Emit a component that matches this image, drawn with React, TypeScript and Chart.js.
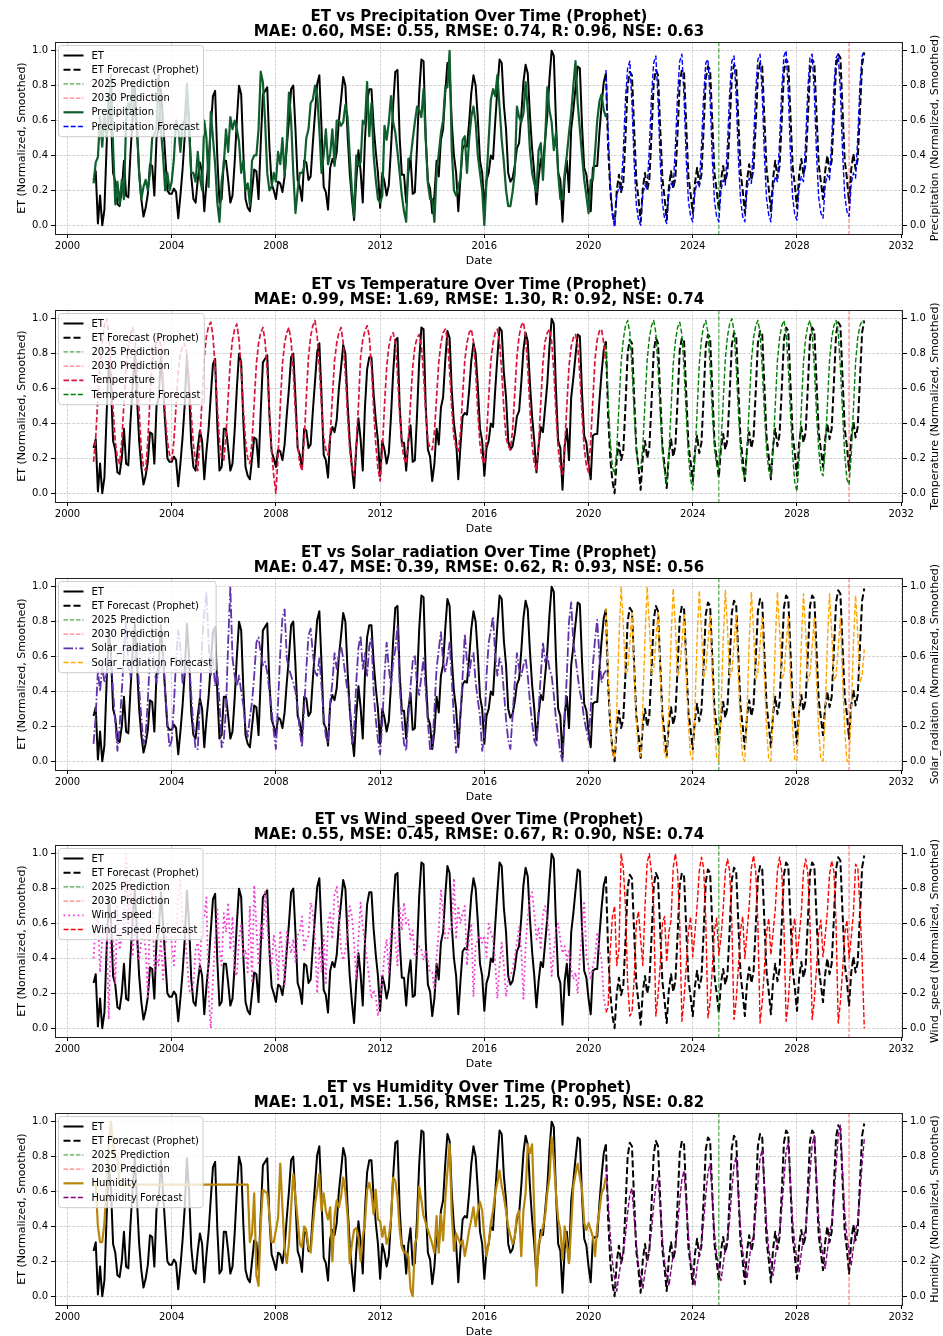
import React, { useEffect, useRef } from "react";
import { Chart, registerables } from "chart.js";

Chart.register(...registerables);

// ---------------- data ----------------
// Observed series: monthly, Jan 2001 .. Sep 2020 ; forecasts: monthly, Sep 2020 .. Aug 2030
const OBS_START = { year: 2001, month: 0 };
const FC_START = { year: 2020, month: 8 };

const X_TICKS = [2000, 2004, 2008, 2012, 2016, 2020, 2024, 2028, 2032];
const Y_TICKS = [0, 0.2, 0.4, 0.6, 0.8, 1.0];
const PREDICTION_YEARS = [2025, 2030];
const PREDICTION_LABELS = ["2025 Prediction", "2030 Prediction"];

const ET_OBS = [
  0.26, 0.31, 0.01, 0.17, 0.00, 0.09, 0.45, 0.75, 0.62, 0.30, 0.25, 0.12,
  0.11, 0.20, 0.37, 0.17, 0.16, 0.41, 0.62, 0.79, 0.55, 0.30, 0.15, 0.05,
  0.10, 0.18, 0.35, 0.34, 0.17, 0.50, 0.55, 0.78, 0.60, 0.40, 0.20, 0.18,
  0.18, 0.21, 0.19, 0.04, 0.17, 0.32, 0.51, 0.79, 0.60, 0.28, 0.15, 0.13,
  0.26, 0.36, 0.30, 0.08, 0.24, 0.37, 0.56, 0.74, 0.77, 0.39, 0.13, 0.15,
  0.37, 0.37, 0.26, 0.13, 0.17, 0.36, 0.60, 0.80, 0.75, 0.41, 0.15, 0.10,
  0.08, 0.20, 0.32, 0.31, 0.15, 0.47, 0.75, 0.77, 0.79, 0.45, 0.24, 0.20,
  0.15, 0.25, 0.24, 0.19, 0.28, 0.45, 0.60, 0.78, 0.80, 0.55, 0.26, 0.22,
  0.14, 0.37, 0.36, 0.26, 0.28, 0.47, 0.64, 0.81, 0.86, 0.56, 0.22, 0.19,
  0.09, 0.33, 0.38, 0.35, 0.42, 0.60, 0.72, 0.85, 0.80, 0.52, 0.30, 0.15,
  0.03, 0.26, 0.43, 0.31, 0.13, 0.49, 0.71, 0.78, 0.78, 0.57, 0.42, 0.30,
  0.10, 0.30, 0.25, 0.17, 0.23, 0.44, 0.69, 0.88, 0.89, 0.50, 0.29, 0.29,
  0.13, 0.30, 0.39, 0.18, 0.19, 0.45, 0.76, 0.95, 0.94, 0.50, 0.25, 0.21,
  0.07, 0.17, 0.37, 0.28, 0.49, 0.55, 0.76, 0.93, 0.89, 0.59, 0.40, 0.30,
  0.08, 0.27, 0.44, 0.46, 0.45, 0.59, 0.76, 0.86, 0.80, 0.61, 0.37, 0.30,
  0.10, 0.26, 0.30, 0.40, 0.38, 0.59, 0.78, 0.95, 0.93, 0.69, 0.55, 0.30,
  0.25, 0.27, 0.34, 0.44, 0.47, 0.63, 0.82, 0.92, 0.87, 0.63, 0.44, 0.30,
  0.12, 0.27, 0.38, 0.35, 0.49, 0.63, 0.84, 1.00, 0.97, 0.59, 0.30, 0.26,
  0.02, 0.27, 0.37, 0.19, 0.55, 0.66, 0.79, 0.91, 0.90, 0.57, 0.33, 0.29,
  0.17, 0.08, 0.33, 0.34, 0.34, 0.53, 0.69, 0.82, 0.87,
];

const ET_FC = [
  0.87, 0.45, 0.20, 0.07,
  0.00, 0.20, 0.29, 0.19, 0.24, 0.50, 0.80, 0.88, 0.86, 0.55, 0.26, 0.15,
  0.02, 0.21, 0.30, 0.20, 0.26, 0.52, 0.81, 0.89, 0.86, 0.56, 0.27, 0.16,
  0.03, 0.22, 0.31, 0.21, 0.27, 0.53, 0.82, 0.89, 0.87, 0.57, 0.28, 0.18,
  0.07, 0.24, 0.33, 0.23, 0.29, 0.55, 0.84, 0.91, 0.89, 0.59, 0.30, 0.20,
  0.09, 0.26, 0.34, 0.25, 0.31, 0.57, 0.85, 0.92, 0.90, 0.60, 0.31, 0.20,
  0.07, 0.26, 0.35, 0.26, 0.32, 0.58, 0.86, 0.93, 0.91, 0.61, 0.32, 0.21,
  0.08, 0.27, 0.37, 0.27, 0.34, 0.60, 0.88, 0.95, 0.93, 0.63, 0.34, 0.23,
  0.10, 0.29, 0.38, 0.29, 0.35, 0.61, 0.89, 0.95, 0.93, 0.64, 0.35, 0.25,
  0.15, 0.31, 0.40, 0.31, 0.37, 0.63, 0.91, 0.98, 0.96, 0.66, 0.37, 0.27,
  0.13, 0.32, 0.41, 0.32, 0.38, 0.65, 0.92, 0.99,
];

const PRECIP_OBS = [
  0.24, 0.36, 0.39, 0.62, 0.45, 0.63, 0.50, 0.62, 0.86, 0.45, 0.12, 0.25,
  0.12, 0.26, 0.15, 0.60, 0.70, 0.66, 0.80, 0.65, 0.55, 0.30, 0.15, 0.22,
  0.26, 0.20, 0.30, 0.50, 0.52, 0.56, 0.86, 0.55, 0.40, 0.20, 0.30, 0.20,
  0.25, 0.38, 0.60, 0.56, 0.42, 0.58, 0.60, 0.81, 0.55, 0.30, 0.30, 0.25,
  0.42, 0.27, 0.20, 0.60, 0.50, 0.22, 0.65, 0.50, 0.35, 0.13, 0.02, 0.25,
  0.35, 0.55, 0.42, 0.62, 0.55, 0.60, 0.55, 0.48, 0.30, 0.37, 0.20, 0.24,
  0.12, 0.37, 0.40, 0.40, 0.55, 0.88, 0.82, 0.60, 0.30, 0.20, 0.22, 0.30,
  0.25, 0.42, 0.35, 0.50, 0.28, 0.48, 0.76, 0.60, 0.30, 0.07, 0.20, 0.30,
  0.30, 0.33, 0.50, 0.55, 0.70, 0.72, 0.80, 0.75, 0.55, 0.30, 0.40, 0.55,
  0.35, 0.41, 0.55, 0.34, 0.60, 0.60, 0.57, 0.59, 0.69, 0.62, 0.40, 0.20,
  0.05, 0.40, 0.34, 0.36, 0.60, 0.58, 0.82, 0.51, 0.70, 0.40, 0.26, 0.15,
  0.13, 0.17, 0.57, 0.49, 0.59, 0.74, 0.59, 0.53, 0.42, 0.30, 0.17, 0.08,
  0.02, 0.38, 0.38, 0.49, 0.59, 0.68, 0.66, 0.62, 0.78, 0.49, 0.24, 0.15,
  0.15, 0.02, 0.30, 0.41, 0.53, 0.60, 0.79, 0.79, 1.00, 0.43, 0.20, 0.17,
  0.22, 0.27, 0.49, 0.51, 0.30, 0.49, 0.62, 0.68, 0.59, 0.40, 0.30, 0.20,
  0.00, 0.26, 0.49, 0.72, 0.78, 0.74, 0.86, 0.68, 0.49, 0.36, 0.20, 0.11,
  0.11, 0.19, 0.30, 0.68, 0.62, 0.59, 0.64, 0.82, 0.66, 0.43, 0.30, 0.24,
  0.19, 0.43, 0.47, 0.26, 0.49, 0.79, 0.66, 0.59, 0.43, 0.53, 0.30, 0.15,
  0.15, 0.30, 0.40, 0.53, 0.64, 0.80, 0.94, 0.70, 0.55, 0.40, 0.26, 0.17,
  0.07, 0.26, 0.26, 0.42, 0.60, 0.71, 0.75, 0.66, 0.62,
];

const PRECIP_FC = [
  0.89, 0.55, 0.25, 0.06,
  0.00, 0.17, 0.22, 0.20, 0.42, 0.72, 0.90, 0.94, 0.70, 0.36, 0.12, 0.03,
  0.00, 0.18, 0.23, 0.21, 0.44, 0.74, 0.93, 0.97, 0.72, 0.37, 0.13, 0.04,
  0.01, 0.19, 0.24, 0.22, 0.45, 0.75, 0.94, 0.98, 0.73, 0.38, 0.14, 0.05,
  0.02, 0.19, 0.25, 0.22, 0.45, 0.74, 0.93, 0.95, 0.72, 0.38, 0.14, 0.05,
  0.02, 0.20, 0.26, 0.23, 0.46, 0.76, 0.94, 0.97, 0.74, 0.39, 0.15, 0.05,
  0.02, 0.21, 0.27, 0.24, 0.47, 0.77, 0.95, 0.98, 0.75, 0.40, 0.15, 0.06,
  0.02, 0.21, 0.28, 0.25, 0.48, 0.78, 0.97, 1.00, 0.76, 0.41, 0.16, 0.06,
  0.03, 0.22, 0.28, 0.25, 0.48, 0.78, 0.96, 0.98, 0.76, 0.41, 0.16, 0.07,
  0.04, 0.23, 0.29, 0.26, 0.49, 0.79, 0.96, 0.98, 0.77, 0.42, 0.17, 0.08,
  0.05, 0.24, 0.30, 0.27, 0.50, 0.80, 0.97, 1.00,
];

const TEMP_OBS = [
  0.18, 0.32, 0.55, 0.75, 0.86, 0.96, 1.00, 0.92, 0.72, 0.48, 0.30, 0.20,
  0.17, 0.30, 0.52, 0.72, 0.84, 0.91, 0.95, 0.88, 0.70, 0.47, 0.25, 0.15,
  0.13, 0.30, 0.55, 0.75, 0.83, 0.86, 0.90, 0.84, 0.68, 0.45, 0.30, 0.22,
  0.19, 0.30, 0.50, 0.70, 0.80, 0.84, 0.86, 0.80, 0.65, 0.45, 0.28, 0.18,
  0.13, 0.30, 0.55, 0.78, 0.90, 0.96, 0.98, 0.90, 0.72, 0.50, 0.30, 0.20,
  0.19, 0.33, 0.55, 0.76, 0.88, 0.94, 0.97, 0.88, 0.70, 0.48, 0.30, 0.20,
  0.17, 0.30, 0.52, 0.74, 0.86, 0.92, 0.95, 0.87, 0.70, 0.46, 0.25, 0.10,
  0.00, 0.22, 0.50, 0.74, 0.86, 0.92, 0.95, 0.87, 0.70, 0.46, 0.28, 0.17,
  0.13, 0.30, 0.55, 0.78, 0.90, 0.96, 0.99, 0.90, 0.72, 0.50, 0.32, 0.25,
  0.22, 0.33, 0.55, 0.76, 0.86, 0.92, 0.95, 0.86, 0.68, 0.44, 0.25, 0.14,
  0.10, 0.28, 0.50, 0.78, 0.88, 0.93, 0.96, 0.90, 0.72, 0.48, 0.28, 0.14,
  0.07, 0.25, 0.50, 0.72, 0.84, 0.90, 0.92, 0.86, 0.68, 0.45, 0.28, 0.20,
  0.17, 0.30, 0.52, 0.72, 0.84, 0.89, 0.91, 0.85, 0.68, 0.46, 0.30, 0.26,
  0.25, 0.35, 0.55, 0.75, 0.86, 0.92, 0.94, 0.88, 0.70, 0.48, 0.32, 0.26,
  0.24, 0.35, 0.56, 0.76, 0.86, 0.92, 0.94, 0.87, 0.70, 0.46, 0.28, 0.20,
  0.17, 0.32, 0.55, 0.76, 0.86, 0.92, 0.94, 0.87, 0.70, 0.48, 0.32, 0.27,
  0.25, 0.36, 0.57, 0.78, 0.90, 0.96, 0.98, 0.90, 0.72, 0.48, 0.28, 0.17,
  0.13, 0.28, 0.52, 0.75, 0.87, 0.92, 0.94, 0.87, 0.70, 0.46, 0.26, 0.15,
  0.11, 0.27, 0.50, 0.73, 0.84, 0.89, 0.91, 0.85, 0.68, 0.45, 0.26, 0.16,
  0.12, 0.30, 0.54, 0.77, 0.88, 0.93, 0.94, 0.86, 0.74,
];

const TEMP_FC = [
  0.85, 0.55, 0.30, 0.15,
  0.11, 0.25, 0.50, 0.75, 0.88, 0.96, 0.99, 0.92, 0.72, 0.46, 0.25, 0.15,
  0.14, 0.27, 0.52, 0.76, 0.89, 0.96, 0.99, 0.92, 0.72, 0.46, 0.24, 0.12,
  0.06, 0.22, 0.48, 0.74, 0.87, 0.95, 0.98, 0.91, 0.71, 0.45, 0.22, 0.08,
  0.02, 0.20, 0.47, 0.74, 0.88, 0.96, 0.99, 0.92, 0.72, 0.46, 0.26, 0.16,
  0.15, 0.28, 0.52, 0.77, 0.90, 0.97, 1.00, 0.93, 0.73, 0.47, 0.25, 0.12,
  0.09, 0.24, 0.50, 0.76, 0.89, 0.96, 0.99, 0.92, 0.72, 0.46, 0.25, 0.13,
  0.10, 0.25, 0.50, 0.76, 0.89, 0.96, 0.99, 0.92, 0.72, 0.46, 0.22, 0.06,
  0.01, 0.20, 0.48, 0.75, 0.89, 0.96, 0.99, 0.92, 0.72, 0.46, 0.25, 0.13,
  0.10, 0.25, 0.50, 0.76, 0.89, 0.96, 0.99, 0.92, 0.72, 0.46, 0.22, 0.08,
  0.05, 0.22, 0.48, 0.75, 0.89, 0.96, 0.99, 0.98,
];

const SOLAR_OBS = [
  0.10, 0.26, 0.52, 0.40, 0.55, 0.45, 0.50, 0.55, 0.60, 0.40, 0.22, 0.06,
  0.20, 0.40, 0.62, 0.80, 0.55, 0.48, 0.55, 0.58, 0.62, 0.42, 0.25, 0.10,
  0.15, 0.35, 0.60, 0.78, 0.52, 0.45, 0.52, 0.56, 0.60, 0.40, 0.22, 0.08,
  0.12, 0.32, 0.58, 0.75, 0.65, 0.45, 0.50, 0.55, 0.58, 0.38, 0.20, 0.07,
  0.07, 0.34, 0.68, 0.85, 0.97, 0.68, 0.49, 0.59, 0.43, 0.51, 0.34, 0.08,
  0.12, 0.30, 0.68, 1.00, 0.59, 0.49, 0.43, 0.49, 0.40, 0.32, 0.20, 0.14,
  0.25, 0.34, 0.49, 0.68, 0.71, 0.62, 0.55, 0.57, 0.51, 0.40, 0.30, 0.17,
  0.07, 0.34, 0.62, 0.82, 0.87, 0.59, 0.53, 0.49, 0.45, 0.40, 0.30, 0.17,
  0.08, 0.30, 0.53, 0.72, 0.76, 0.62, 0.51, 0.49, 0.59, 0.43, 0.26, 0.14,
  0.11, 0.34, 0.45, 0.62, 0.53, 0.61, 0.66, 0.59, 0.49, 0.40, 0.34, 0.10,
  0.18, 0.45, 0.65, 0.72, 0.53, 0.62, 0.49, 0.66, 0.71, 0.40, 0.24, 0.12,
  0.04, 0.22, 0.49, 0.68, 0.53, 0.43, 0.57, 0.64, 0.78, 0.43, 0.24, 0.10,
  0.06, 0.26, 0.43, 0.57, 0.61, 0.43, 0.38, 0.49, 0.59, 0.40, 0.22, 0.07,
  0.07, 0.30, 0.53, 0.64, 0.74, 0.57, 0.51, 0.59, 0.68, 0.47, 0.24, 0.05,
  0.12, 0.26, 0.49, 0.73, 0.57, 0.49, 0.59, 0.62, 0.45, 0.35, 0.26, 0.06,
  0.15, 0.49, 0.68, 0.75, 0.83, 0.61, 0.49, 0.59, 0.55, 0.40, 0.24, 0.12,
  0.07, 0.26, 0.45, 0.62, 0.53, 0.49, 0.55, 0.59, 0.49, 0.34, 0.22, 0.12,
  0.09, 0.30, 0.49, 0.68, 0.57, 0.61, 0.53, 0.49, 0.38, 0.24, 0.15, 0.05,
  0.00, 0.24, 0.49, 0.80, 0.91, 0.68, 0.59, 0.49, 0.40, 0.34, 0.24, 0.18,
  0.12, 0.30, 0.55, 0.70, 0.81, 0.60, 0.45, 0.50, 0.52,
];

const SOLAR_FC = [
  0.88, 0.50, 0.22, 0.05,
  0.02, 0.30, 0.70, 1.00, 0.78, 0.50, 0.52, 0.68, 0.85, 0.50, 0.22, 0.05,
  0.03, 0.31, 0.71, 1.00, 0.78, 0.50, 0.53, 0.69, 0.86, 0.51, 0.22, 0.04,
  0.02, 0.30, 0.70, 0.99, 0.77, 0.49, 0.52, 0.68, 0.85, 0.50, 0.21, 0.03,
  0.01, 0.29, 0.70, 0.98, 0.76, 0.48, 0.52, 0.68, 0.84, 0.49, 0.20, 0.02,
  0.00, 0.29, 0.69, 0.98, 0.76, 0.48, 0.51, 0.67, 0.84, 0.49, 0.20, 0.02,
  0.00, 0.28, 0.69, 0.97, 0.75, 0.47, 0.51, 0.67, 0.83, 0.48, 0.19, 0.01,
  0.00, 0.28, 0.68, 0.97, 0.75, 0.47, 0.50, 0.66, 0.83, 0.48, 0.19, 0.01,
  0.00, 0.28, 0.68, 0.96, 0.74, 0.46, 0.50, 0.66, 0.82, 0.47, 0.18, 0.01,
  0.00, 0.27, 0.67, 0.96, 0.74, 0.46, 0.49, 0.65, 0.82, 0.47, 0.18, 0.00,
  0.00, 0.27, 0.67, 0.95, 0.73, 0.45, 0.49, 0.64,
];

const WIND_OBS = [
  0.40, 0.60, 0.64, 0.32, 0.51, 0.58, 0.60, 0.05, 0.60, 0.51, 0.26, 0.70,
  0.45, 0.52, 0.60, 1.00, 0.60, 0.89, 0.41, 0.60, 0.48, 0.39, 0.51, 0.55,
  0.45, 0.17, 0.68, 0.81, 0.32, 0.41, 0.36, 0.51, 0.28, 0.45, 0.60, 0.56,
  0.49, 0.36, 0.55, 0.75, 0.85, 0.60, 0.58, 0.40, 0.22, 0.20, 0.26, 0.45,
  0.49, 0.34, 0.64, 0.64, 0.75, 0.19, 0.00, 0.28, 0.51, 0.68, 0.45, 0.36,
  0.66, 0.55, 0.72, 0.45, 0.64, 0.32, 0.30, 0.51, 0.60, 0.41, 0.45, 0.32,
  0.70, 0.26, 0.82, 0.58, 0.36, 0.60, 0.51, 0.78, 0.58, 0.43, 0.36, 0.53,
  0.45, 0.28, 0.56, 0.43, 0.24, 0.56, 0.49, 0.43, 0.51, 0.38, 0.53, 0.56,
  0.64, 0.45, 0.51, 0.53, 0.72, 0.66, 0.51, 0.20, 0.47, 0.32, 0.53, 0.26,
  0.60, 0.66, 0.51, 0.77, 0.81, 0.66, 0.45, 0.39, 0.45, 0.55, 0.70, 0.64,
  0.49, 0.28, 0.51, 0.72, 0.58, 0.49, 0.39, 0.28, 0.17, 0.22, 0.18, 0.07,
  0.17, 0.26, 0.43, 0.51, 0.32, 0.56, 0.58, 0.51, 0.36, 0.70, 0.56, 0.72,
  0.60, 0.62, 0.51, 0.56, 0.41, 0.43, 0.47, 0.45, 0.39, 0.45, 0.39, 0.32,
  0.32, 0.22, 0.41, 0.56, 0.79, 0.66, 0.51, 0.51, 0.58, 0.56, 0.86, 0.51,
  0.70, 0.60, 0.66, 0.70, 0.36, 0.51, 0.60, 0.18, 0.47, 0.51, 0.53, 0.49,
  0.53, 0.41, 0.60, 0.55, 0.51, 0.38, 0.17, 0.36, 0.49, 0.36, 0.18, 0.28,
  0.30, 0.34, 0.41, 0.49, 0.58, 0.45, 0.17, 0.47, 0.64, 0.75, 0.78, 0.66,
  0.51, 0.58, 0.45, 0.66, 0.70, 0.62, 0.53, 0.30, 0.43, 0.58, 0.60, 0.51,
  0.43, 0.47, 0.39, 0.45, 0.34, 0.28, 0.32, 0.20, 0.41, 0.56, 0.73, 0.41,
  0.35, 0.28, 0.36, 0.41, 0.55, 0.45, 0.39, 0.18, 0.10,
];

const WIND_FC = [
  0.09, 0.12, 0.45, 0.64,
  0.70, 0.36, 0.45, 1.00, 0.92, 0.70, 0.26, 0.07, 0.09, 0.28, 0.60, 0.67,
  0.51, 0.36, 0.70, 0.95, 1.00, 0.89, 0.70, 0.07, 0.19, 0.36, 0.60, 0.64,
  0.38, 0.55, 0.62, 0.92, 1.00, 0.90, 0.60, 0.04, 0.17, 0.36, 0.55, 0.64,
  0.41, 0.55, 0.70, 0.90, 0.98, 0.92, 0.62, 0.06, 0.15, 0.34, 0.56, 0.63,
  0.42, 0.52, 0.68, 0.90, 0.97, 0.90, 0.60, 0.05, 0.16, 0.35, 0.56, 0.64,
  0.40, 0.55, 0.70, 0.92, 0.99, 0.90, 0.60, 0.03, 0.15, 0.34, 0.55, 0.63,
  0.42, 0.55, 0.68, 0.90, 0.98, 0.90, 0.58, 0.04, 0.15, 0.35, 0.56, 0.63,
  0.40, 0.53, 0.66, 0.90, 0.97, 0.89, 0.60, 0.05, 0.16, 0.34, 0.55, 0.62,
  0.41, 0.53, 0.67, 0.88, 0.96, 0.90, 0.60, 0.03, 0.15, 0.33, 0.54, 0.62,
  0.40, 0.52, 0.66, 0.94, 0.92, 0.70, 0.40, 0.00,
];

const HUM_OBS = [
  0.64, 0.64, 0.40, 0.31, 0.31, 0.42, 0.65, 0.88, 1.00, 0.87, 0.79, 0.79,
  0.65, 0.64, 0.64, 0.64, 0.64, 0.64, 0.64, 0.64, 0.64, 0.64, 0.64, 0.64,
  0.64, 0.64, 0.64, 0.64, 0.64, 0.64, 0.64, 0.64, 0.64, 0.64, 0.64, 0.64,
  0.64, 0.64, 0.64, 0.64, 0.64, 0.64, 0.64, 0.64, 0.64, 0.64, 0.64, 0.64,
  0.64, 0.64, 0.64, 0.64, 0.64, 0.64, 0.64, 0.64, 0.64, 0.64, 0.64, 0.64,
  0.64, 0.64, 0.64, 0.64, 0.64, 0.64, 0.64, 0.64, 0.64, 0.64, 0.64, 0.64,
  0.31, 0.36, 0.59, 0.12, 0.06, 0.42, 0.61, 0.60, 0.59, 0.47, 0.31, 0.31,
  0.38, 0.45, 0.76, 0.51, 0.27, 0.19, 0.30, 0.51, 0.70, 0.57, 0.44, 0.30,
  0.28, 0.40, 0.38, 0.28, 0.25, 0.40, 0.53, 0.61, 0.70, 0.49, 0.59, 0.49,
  0.44, 0.51, 0.20, 0.46, 0.55, 0.51, 0.57, 0.68, 0.60, 0.46, 0.19, 0.30,
  0.38, 0.39, 0.34, 0.20, 0.34, 0.42, 0.61, 0.65, 0.59, 0.47, 0.61, 0.44,
  0.43, 0.34, 0.40, 0.30, 0.34, 0.44, 0.68, 0.66, 0.57, 0.38, 0.28, 0.25,
  0.25, 0.23, 0.04, 0.00, 0.30, 0.34, 0.63, 0.55, 0.46, 0.42, 0.38, 0.34,
  0.30, 0.25, 0.46, 0.25, 0.47, 0.32, 0.55, 0.72, 0.87, 0.47, 0.26, 0.36,
  0.33, 0.30, 0.32, 0.23, 0.30, 0.38, 0.44, 0.51, 0.40, 0.49, 0.54, 0.49,
  0.34, 0.23, 0.30, 0.42, 0.49, 0.59, 0.65, 0.72, 0.63, 0.57, 0.49, 0.40,
  0.35, 0.30, 0.34, 0.46, 0.49, 0.23, 0.49, 0.59, 0.87, 0.82, 0.87, 0.49,
  0.06, 0.30, 0.34, 0.40, 0.46, 0.59, 0.68, 0.91, 0.78, 0.59, 0.44, 0.38,
  0.21, 0.40, 0.30, 0.19, 0.40, 0.63, 0.70, 0.76, 0.68, 0.61, 0.42, 0.38,
  0.42, 0.38, 0.34, 0.23, 0.40, 0.49, 0.59, 0.62, 0.68,
];

const HUM_FC = [
  0.74, 0.55, 0.35, 0.20,
  0.10, 0.03, 0.12, 0.20, 0.25, 0.35, 0.48, 0.58, 0.62, 0.45, 0.30, 0.18,
  0.11, 0.04, 0.14, 0.21, 0.27, 0.38, 0.52, 0.63, 0.68, 0.50, 0.33, 0.20,
  0.12, 0.06, 0.15, 0.24, 0.28, 0.40, 0.55, 0.67, 0.72, 0.52, 0.35, 0.21,
  0.14, 0.06, 0.17, 0.25, 0.31, 0.43, 0.58, 0.71, 0.76, 0.56, 0.36, 0.24,
  0.15, 0.09, 0.18, 0.28, 0.33, 0.44, 0.61, 0.75, 0.80, 0.58, 0.39, 0.26,
  0.17, 0.10, 0.21, 0.30, 0.35, 0.48, 0.64, 0.79, 0.84, 0.62, 0.41, 0.27,
  0.19, 0.12, 0.22, 0.33, 0.37, 0.50, 0.67, 0.83, 0.88, 0.65, 0.44, 0.30,
  0.21, 0.14, 0.25, 0.34, 0.39, 0.53, 0.70, 0.87, 0.92, 0.67, 0.45, 0.32,
  0.23, 0.16, 0.26, 0.36, 0.42, 0.56, 0.74, 0.92, 0.98, 0.72, 0.48, 0.34,
  0.25, 0.18, 0.28, 0.38, 0.43, 0.58, 0.76, 0.90,
];

// ---------------- styling ----------------
const FONT = "'DejaVu Sans', 'Liberation Sans', sans-serif";
const X_MIN = 1999.52;
const X_MAX = 2032.07;
const Y_MIN = -0.05;
const Y_MAX = 1.05;
const GRID_COLOR = "rgba(176,176,176,0.7)";
const PANEL_TOPS = [0, 268, 536, 803, 1071];
const CANVAS_H = 268;
const CANVAS_W = 943;

type LineStyle = { color: string; width: number; dash: number[] };

const ET_STYLE: LineStyle = { color: "#000000", width: 2, dash: [] };
const ET_FC_STYLE: LineStyle = { color: "#000000", width: 2, dash: [7, 3] };
const VLINE_STYLES: LineStyle[] = [
  { color: "rgba(0,128,0,0.7)", width: 1.2, dash: [4.4, 1.9] },
  { color: "rgba(255,0,0,0.5)", width: 1.2, dash: [4.4, 1.9] },
];

type Panel = {
  name: string;
  metrics: string;
  obs: number[];
  fc: number[];
  obsStyle: LineStyle;
  fcStyle: LineStyle;
};

const PANELS: Panel[] = [
  {
    name: "Precipitation",
    metrics: "MAE: 0.60, MSE: 0.55, RMSE: 0.74, R: 0.96, NSE: 0.63",
    obs: PRECIP_OBS,
    fc: PRECIP_FC,
    obsStyle: { color: "#0f5e2d", width: 2.2, dash: [] },
    fcStyle: { color: "#0000ff", width: 1.4, dash: [5, 2.2] },
  },
  {
    name: "Temperature",
    metrics: "MAE: 0.99, MSE: 1.69, RMSE: 1.30, R: 0.92, NSE: 0.74",
    obs: TEMP_OBS,
    fc: TEMP_FC,
    obsStyle: { color: "#dc143c", width: 1.7, dash: [5.5, 2.4] },
    fcStyle: { color: "#008000", width: 1.4, dash: [5, 2.2] },
  },
  {
    name: "Solar_radiation",
    metrics: "MAE: 0.47, MSE: 0.39, RMSE: 0.62, R: 0.93, NSE: 0.56",
    obs: SOLAR_OBS,
    fc: SOLAR_FC,
    obsStyle: { color: "#6031a8", width: 1.8, dash: [9.6, 2.4, 1.5, 2.4] },
    fcStyle: { color: "#ffa500", width: 1.4, dash: [5, 2.2] },
  },
  {
    name: "Wind_speed",
    metrics: "MAE: 0.55, MSE: 0.45, RMSE: 0.67, R: 0.90, NSE: 0.74",
    obs: WIND_OBS,
    fc: WIND_FC,
    obsStyle: { color: "#f03cd2", width: 1.8, dash: [1.8, 2.9] },
    fcStyle: { color: "#ff0000", width: 1.4, dash: [5, 2.2] },
  },
  {
    name: "Humidity",
    metrics: "MAE: 1.01, MSE: 1.56, RMSE: 1.25, R: 0.95, NSE: 0.82",
    obs: HUM_OBS,
    fc: HUM_FC,
    obsStyle: { color: "#b8860b", width: 2.2, dash: [] },
    fcStyle: { color: "#800080", width: 1.4, dash: [5, 2.2] },
  },
];

function monthPoints(values: number[], start: { year: number; month: number }) {
  return values.map((v, i) => ({ x: start.year + (start.month + i) / 12, y: v }));
}

function strokeSample(ctx: CanvasRenderingContext2D, s: LineStyle, x0: number, x1: number, y: number) {
  ctx.save();
  ctx.strokeStyle = s.color;
  ctx.lineWidth = s.width;
  ctx.setLineDash(s.dash);
  ctx.beginPath();
  ctx.moveTo(x0, y);
  ctx.lineTo(x1, y);
  ctx.stroke();
  ctx.restore();
}

function makeDecor(p: Panel) {
  return {
    id: "decor",
    afterDatasetDraw(chart: any, args: any) {
      if (args.index !== 1) return;
      const ctx = chart.ctx as CanvasRenderingContext2D;
      const a = chart.chartArea;
      const xs = chart.scales.x;
      ctx.save();
      ctx.beginPath();
      ctx.rect(a.left, a.top, a.right - a.left, a.bottom - a.top);
      ctx.clip();
      PREDICTION_YEARS.forEach((yr, i) => {
        const px = xs.getPixelForValue(yr);
        const s = VLINE_STYLES[i];
        ctx.strokeStyle = s.color;
        ctx.lineWidth = s.width;
        ctx.setLineDash(s.dash);
        ctx.beginPath();
        ctx.moveTo(px, a.top);
        ctx.lineTo(px, a.bottom);
        ctx.stroke();
      });
      ctx.restore();
    },
    afterDatasetsDraw(chart: any) {
      const ctx = chart.ctx as CanvasRenderingContext2D;
      const a = chart.chartArea;
      const items: { label: string; style: LineStyle }[] = [
        { label: "ET", style: ET_STYLE },
        { label: "ET Forecast (Prophet)", style: ET_FC_STYLE },
        { label: PREDICTION_LABELS[0], style: VLINE_STYLES[0] },
        { label: PREDICTION_LABELS[1], style: VLINE_STYLES[1] },
        { label: p.name, style: p.obsStyle },
        { label: p.name + " Forecast", style: p.fcStyle },
      ];
      ctx.save();
      ctx.font = `10px ${FONT}`;
      const maxW = Math.max(...items.map((it) => ctx.measureText(it.label).width));
      const x0 = a.left + 3.5;
      const y0 = a.top + 3.5;
      const w = 33 + maxW + 4;
      const rowH = 14.2;
      const h = items.length * rowH + 6;
      ctx.fillStyle = "rgba(255,255,255,0.8)";
      ctx.strokeStyle = "#cccccc";
      ctx.lineWidth = 1;
      ctx.beginPath();
      (ctx as any).roundRect(x0, y0, w, h, 3);
      ctx.fill();
      ctx.stroke();
      items.forEach((it, i) => {
        const cy = y0 + 10 + i * rowH;
        strokeSample(ctx, it.style, x0 + 5, x0 + 25, cy);
        ctx.fillStyle = "#000";
        ctx.textBaseline = "middle";
        ctx.textAlign = "left";
        ctx.fillText(it.label, x0 + 33, cy + 0.5);
      });
      ctx.restore();
    },
    afterDraw(chart: any) {
      const ctx = chart.ctx as CanvasRenderingContext2D;
      const a = chart.chartArea;
      const cx = (a.left + a.right) / 2;
      const cy = (a.top + a.bottom) / 2;
      ctx.save();
      // frame
      ctx.strokeStyle = "#222";
      ctx.lineWidth = 1;
      ctx.setLineDash([]);
      ctx.strokeRect(Math.round(a.left) + 0.5, Math.round(a.top) + 0.5, Math.round(a.right - a.left) - 1, Math.round(a.bottom - a.top));
      // titles
      ctx.fillStyle = "#000";
      ctx.textAlign = "center";
      ctx.textBaseline = "middle";
      ctx.font = `bold 15px ${FONT}`;
      ctx.fillText(`ET vs ${p.name} Over Time (Prophet)`, cx, 17);
      ctx.fillText(p.metrics, cx, 32.5);
      ctx.font = `11px ${FONT}`;
      ctx.fillText("Date", cx, a.bottom + 27);
      ctx.save();
      ctx.translate(22, cy);
      ctx.rotate(-Math.PI / 2);
      ctx.fillText("ET (Normalized, Smoothed)", 0, 0);
      ctx.restore();
      ctx.save();
      ctx.translate(935, cy);
      ctx.rotate(-Math.PI / 2);
      ctx.fillText(`${p.name} (Normalized, Smoothed)`, 0, 0);
      ctx.restore();
      ctx.restore();
    },
  };
}

function buildChart(canvas: HTMLCanvasElement, p: Panel) {
  const tickFont = { family: FONT, size: 10 };
  const yTicks = (s: any) => {
    s.ticks = Y_TICKS.map((v) => ({ value: v }));
  };
  return new Chart(canvas, {
    type: "line",
    data: {
      datasets: [
        {
          label: "ET",
          data: monthPoints(ET_OBS, OBS_START),
          borderColor: ET_STYLE.color,
          borderWidth: ET_STYLE.width,
          yAxisID: "y",
          order: 4,
        },
        {
          label: "ET Forecast (Prophet)",
          data: monthPoints(ET_FC, FC_START),
          borderColor: ET_FC_STYLE.color,
          borderWidth: ET_FC_STYLE.width,
          borderDash: ET_FC_STYLE.dash,
          yAxisID: "y",
          order: 3,
        },
        {
          label: p.name,
          data: monthPoints(p.obs, OBS_START),
          borderColor: p.obsStyle.color,
          borderWidth: p.obsStyle.width,
          borderDash: p.obsStyle.dash,
          yAxisID: "y1",
          order: 2,
        },
        {
          label: p.name + " Forecast",
          data: monthPoints(p.fc, FC_START),
          borderColor: p.fcStyle.color,
          borderWidth: p.fcStyle.width,
          borderDash: p.fcStyle.dash,
          yAxisID: "y1",
          order: 1,
        },
      ],
    } as any,
    options: {
      animation: false,
      responsive: false,
      maintainAspectRatio: false,
      devicePixelRatio: 1,
      events: [],
      elements: {
        point: { radius: 0 },
        line: { tension: 0, fill: false, borderJoinStyle: "round", borderCapStyle: "butt" },
      },
      layout: { padding: { top: 42, left: 0, right: 0, bottom: 0 } },
      plugins: {
        legend: { display: false },
        title: { display: false },
        tooltip: { enabled: false },
      },
      scales: {
        x: {
          type: "linear",
          min: X_MIN,
          max: X_MAX,
          afterBuildTicks: (s: any) => {
            s.ticks = X_TICKS.map((v) => ({ value: v }));
          },
          afterFit: (s: any) => {
            s.height = 34;
          },
          ticks: {
            autoSkip: false,
            maxRotation: 0,
            font: tickFont,
            color: "#000",
            padding: 2,
            callback: (v: any) => String(v),
          },
          grid: { color: GRID_COLOR, lineWidth: 0.8, tickColor: "#000", tickLength: 4, tickWidth: 1 },
          border: { display: false, dash: [3, 1.3] },
        },
        y: {
          type: "linear",
          position: "left",
          min: Y_MIN,
          max: Y_MAX,
          afterBuildTicks: yTicks,
          afterFit: (s: any) => {
            s.width = 55;
          },
          ticks: { font: tickFont, color: "#000", padding: 3, callback: (v: any) => Number(v).toFixed(1) },
          grid: { color: GRID_COLOR, lineWidth: 0.8, tickColor: "#000", tickLength: 4, tickWidth: 1 },
          border: { display: false, dash: [3, 1.3] },
        },
        y1: {
          type: "linear",
          position: "right",
          min: Y_MIN,
          max: Y_MAX,
          afterBuildTicks: yTicks,
          afterFit: (s: any) => {
            s.width = 40;
          },
          ticks: { font: tickFont, color: "#000", padding: 3, callback: (v: any) => Number(v).toFixed(1) },
          grid: { drawOnChartArea: false, tickColor: "#000", tickLength: 4, tickWidth: 1 },
          border: { display: false },
        },
      },
    } as any,
    plugins: [makeDecor(p)],
  });
}

export default function App() {
  const refs = useRef<(HTMLCanvasElement | null)[]>([]);
  useEffect(() => {
    const charts = PANELS.map((p, i) => buildChart(refs.current[i] as HTMLCanvasElement, p));
    return () => charts.forEach((c) => c.destroy());
  }, []);
  return (
    <div style={{ position: "absolute", left: 0, top: 0, width: CANVAS_W, height: 1336, background: "#fff" }}>
      {PANELS.map((p, i) => (
        <canvas
          key={p.name}
          ref={(el) => {
            refs.current[i] = el;
          }}
          width={CANVAS_W}
          height={CANVAS_H}
          style={{ position: "absolute", left: 0, top: PANEL_TOPS[i], width: CANVAS_W, height: CANVAS_H }}
        />
      ))}
    </div>
  );
}
